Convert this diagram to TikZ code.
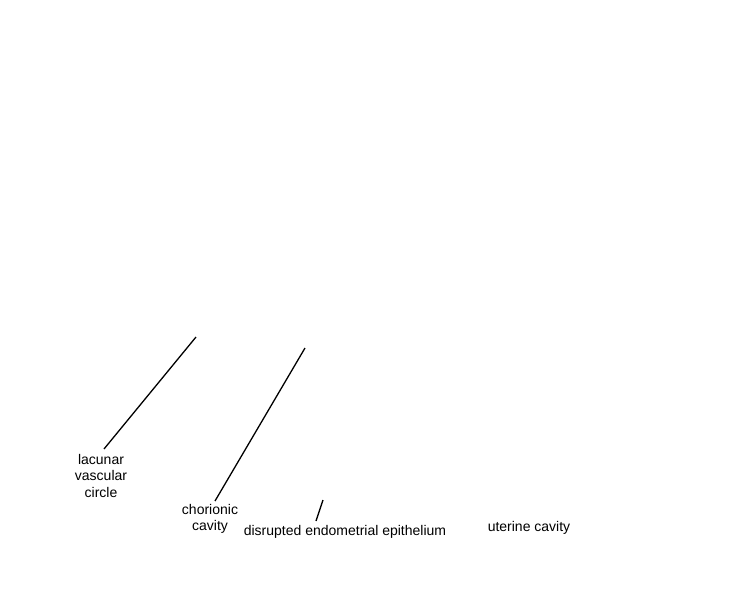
\documentclass[tikz,border=0pt]{standalone}
\usepackage{fontspec}
\setmainfont{Liberation Sans}
\begin{document}
\begin{tikzpicture}[x=1pt,y=-1pt,
  lbl/.style={font=\fontsize{14}{16.5}\selectfont, inner sep=0pt, align=center, text=black},
  leader/.style={draw=black, line width=1.3pt}]
\useasboundingbox[fill=white] (0,0) rectangle (750,600);
\node[lbl] (lac) at (101,475.5) {lacunar\\vascular\\circle};
\node[lbl] (cho) at (210,518.7) {chorionic\\cavity};
\node[lbl,anchor=base] (dis) at (345,535) {disrupted endometrial epithelium};
\node[lbl,anchor=base] (ute) at (529,531) {uterine cavity};
\coordinate (lacE) at (196,337);
\coordinate (lacS) at (104,449);
\coordinate (choE) at (305,348);
\coordinate (choS) at (215,501);
\coordinate (disE) at (323,500);
\coordinate (disS) at (316,521);
\draw[leader] (lacS) -- (lacE);
\draw[leader] (choS) -- (choE);
\draw[leader] (disS) -- (disE);
\end{tikzpicture}
\end{document}
